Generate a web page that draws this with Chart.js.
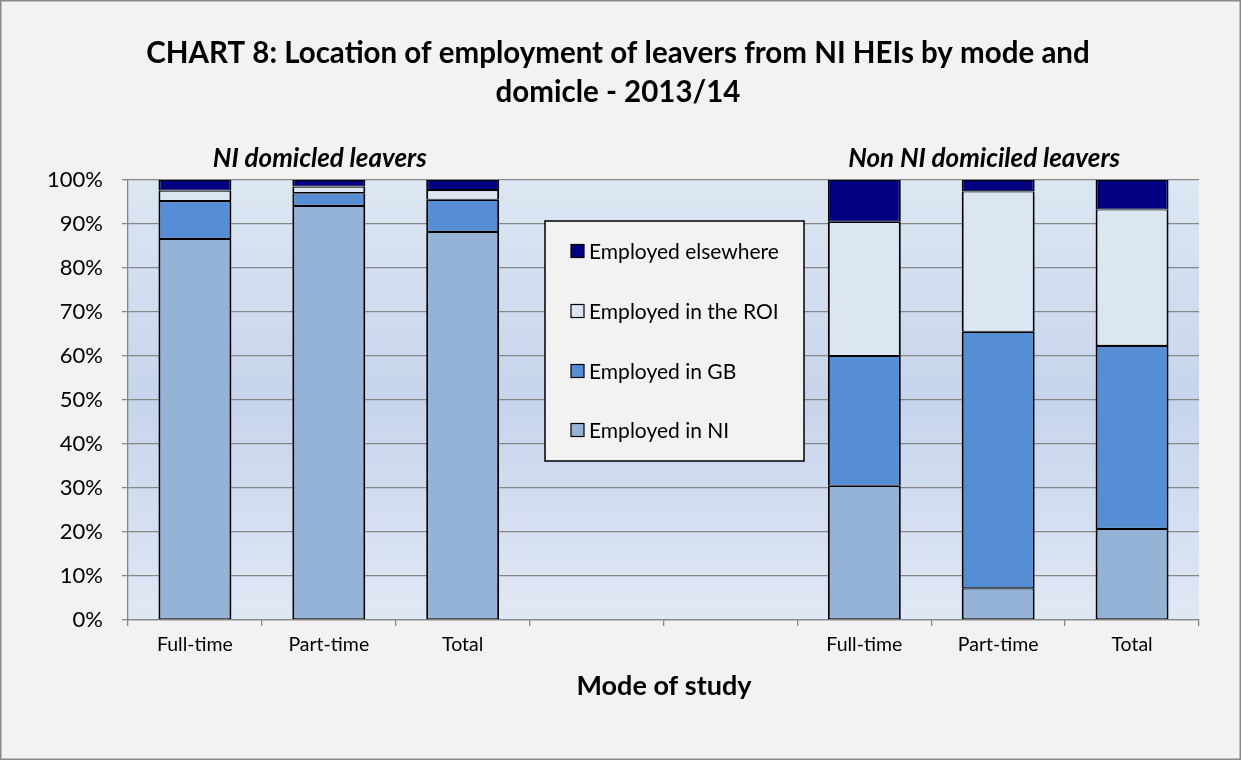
<!DOCTYPE html>
<html>
<head>
<meta charset="utf-8">
<script src="https://cdn.jsdelivr.net/npm/chart.js@4"></script>
<style>
  html, body { margin: 0; padding: 0; background: #f2f2f2; }
  #wrap { width: 1241px; height: 760px; position: relative; }
</style>
</head>
<body>
<div id="wrap"><canvas id="chart8" width="1241" height="760"></canvas></div>
<script>
// Categories (two blank slots separate the NI and non-NI groups)
const modes = ['Full-time', 'Part-time', 'Total', '', '', 'Full-time', 'Part-time', 'Total'];

// Shares of leavers in employment (%)
const employedNI        = [86.6, 94.1, 88.2, null, null, 30.5,  7.2, 20.7];
const employedGB        = [ 8.6,  2.9,  7.3, null, null, 29.5, 58.3, 41.6];
const employedROI       = [ 2.4,  1.5,  2.2, null, null, 30.5, 31.9, 31.0];
const employedElsewhere = [ 2.4,  1.5,  2.3, null, null,  9.5,  2.6,  6.7];

const yTicks = [0, 10, 20, 30, 40, 50, 60, 70, 80, 90, 100];

const FONT = 'Lato, "Open Sans", sans-serif';

const seriesStyle = [
    { label: 'Employed in NI', data: employedNI, color: '#95b3d7' },
    { label: 'Employed in GB', data: employedGB, color: '#558ed5' },
    { label: 'Employed in the ROI', data: employedROI, color: '#dce6f2' },
    { label: 'Employed elsewhere', data: employedElsewhere, color: '#000080' }
];

// Background gradient behind bars, and the titles / legend drawn on top
const decorations = {
    id: 'decorations',
    beforeDraw(chart) {
        const { ctx, chartArea: a } = chart;
        ctx.save();
        const g = ctx.createLinearGradient(0, a.top, 0, a.bottom);
        g.addColorStop(0, '#dde7f3');
        g.addColorStop(0.5, '#c6d4ec');
        g.addColorStop(1, '#e1e8f5');
        ctx.fillStyle = g;
        ctx.fillRect(a.left, a.top, a.right - a.left, a.bottom - a.top);
        ctx.restore();
    },
    afterDraw(chart) {
        const { ctx, scales } = chart;
        ctx.save();
        ctx.fillStyle = '#000';
        ctx.textAlign = 'center';
        ctx.textBaseline = 'alphabetic';

        ctx.font = 'bold 29.5px ' + FONT;
        ctx.fillText('CHART 8: Location of employment of leavers from NI HEIs by mode and', 618, 63);
        ctx.fillText('domicle - 2013/14', 618, 102);

        ctx.font = 'italic bold 26px ' + FONT;
        const x = scales.x;
        ctx.fillText('NI domicled leavers', x.getPixelForValue(1) - 9, 167);
        ctx.fillText('Non NI domiciled leavers', x.getPixelForValue(6) - 14, 167);

        ctx.font = 'bold 27px ' + FONT;
        ctx.fillText('Mode of study', 664, 695);

        // legend box, reversed order
        ctx.fillStyle = '#f2f2f2';
        ctx.fillRect(545, 221, 259, 240);
        ctx.strokeStyle = '#000';
        ctx.lineWidth = 1.5;
        ctx.strokeRect(545, 221, 259, 240);
        const rows = [251, 311, 371, 430];
        ctx.font = '21px ' + FONT;
        ctx.textAlign = 'left';
        ctx.textBaseline = 'middle';
        seriesStyle.slice().reverse().forEach((s, i) => {
            ctx.fillStyle = s.color;
            ctx.fillRect(571, rows[i] - 6.5, 13, 13);
            ctx.lineWidth = 1.2;
            ctx.strokeRect(571, rows[i] - 6.5, 13, 13);
            ctx.fillStyle = '#000';
            ctx.fillText(s.label, 589, rows[i] + 1);
        });

        // outer frame
        ctx.strokeStyle = '#8a8a8a';
        ctx.lineWidth = 1.5;
        ctx.strokeRect(0.75, 0.75, 1239.5, 758.5);
        ctx.restore();
    }
};

new Chart(document.getElementById('chart8'), {
    type: 'bar',
    data: {
        labels: modes,
        datasets: seriesStyle.map(s => ({
            label: s.label,
            data: s.data,
            backgroundColor: s.color,
            borderColor: '#000',
            // half-width top/bottom so stacked segments share one ~2px line
            borderWidth: { top: 1.1, bottom: 1.1, left: 2, right: 2 },
            borderSkipped: false,
            barPercentage: 0.545,
            categoryPercentage: 1.0
        }))
    },
    options: {
        responsive: false,
        animation: false,
        layout: { padding: { top: 180, right: 42, left: 0, bottom: 0 } },
        scales: {
            x: {
                stacked: true,
                offset: true,
                afterFit: (scale) => { scale.height = 140; },
                grid: {
                    offset: true,
                    drawOnChartArea: false,
                    drawTicks: true,
                    tickLength: 6,
                    color: '#868686',
                    lineWidth: 1.3
                },
                border: { color: '#868686', width: 1.3 },
                ticks: {
                    color: '#000',
                    padding: 7,
                    font: { family: FONT, size: 19.5 },
                    maxRotation: 0,
                    autoSkip: false
                }
            },
            y: {
                stacked: true,
                min: 0,
                max: 100,
                afterFit: (scale) => { scale.width = 128; },
                afterBuildTicks: (scale) => { scale.ticks = yTicks.map(v => ({ value: v })); },
                grid: {
                    color: '#868686',
                    lineWidth: 1.3,
                    tickLength: 6
                },
                border: { color: '#868686', width: 1.3 },
                ticks: {
                    color: '#000',
                    padding: 19,
                    font: { family: FONT, size: 22 },
                    callback: (v) => v + '%'
                }
            }
        },
        plugins: {
            legend: { display: false },
            title: { display: false },
            tooltip: { enabled: false }
        }
    },
    plugins: [decorations]
});
</script>
</body>
</html>
